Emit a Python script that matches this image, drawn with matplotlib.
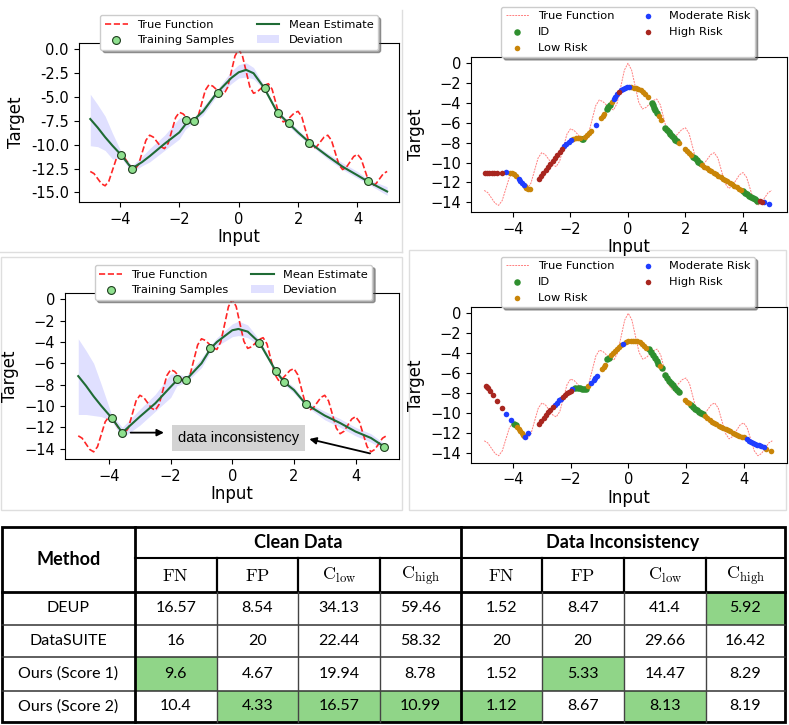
import numpy as np
import matplotlib
matplotlib.use('Agg')
import matplotlib.pyplot as plt
from matplotlib.patches import Rectangle

plt.rcParams['mathtext.fontset'] = 'cm'

W, H = 789, 725

# true function at 1/8 steps from -5 to 5
true_x = np.linspace(-5, 5, 81)
true_y = [-12.8, -13.02, -13.55, -14.08, -14.3, -13.82, -12.65, -11.48,
          -11.0, -11.23, -11.8, -12.37, -12.6, -12.07, -10.8, -9.53,
          -9.0, -9.2, -9.7, -10.2, -10.4, -9.85, -8.5, -7.15,
          -6.6, -6.76, -7.15, -7.54, -7.7, -7.12, -5.7, -4.28,
          -3.7, -3.85, -4.2, -4.55, -4.7, -4.0, -2.35, -0.69,
          0.0,
          -0.67, -2.3, -3.93, -4.6, -4.45, -4.1, -3.75, -3.6,
          -4.18, -5.6, -7.02, -7.6, -7.44, -7.05, -6.66, -6.5,
          -7.07, -8.45, -9.83, -10.4, -10.2, -9.7, -9.2, -9.0,
          -9.53, -10.8, -12.07, -12.6, -12.37, -11.8, -11.23, -11.0,
          -11.48, -12.65, -13.82, -14.3, -14.08, -13.55, -13.02, -12.8]

# clean data (top left)
tl_x = [-5, -4.75, -4.5, -4.25, -3.95, -3.6, -3.25, -3, -2.5, -2, -1.8, -1.55,
        -1.2, -0.75, -0.5, -0.25, 0, 0.25, 0.5, 0.85, 1.3, 1.7, 2, 2.4, 3,
        3.5, 4, 4.35, 5]
tl_mean = [-7.3, -8.2, -9.2, -10.1, -11.1, -12.5, -11.8, -11.2, -9.9, -8.7,
           -7.9, -7.5, -6.5, -4.6, -3.8, -3.0, -2.4, -2.15, -2.5, -4.0, -6.6,
           -7.8, -8.7, -9.8, -11.2, -12.3, -13.2, -13.85, -14.9]
tl_upper = [-4.7, -5.8, -7.0, -8.8, -10.8, -12.2, -11.2, -10.4, -9.0, -7.2,
            -7.1, -7.3, -6.0, -4.3, -3.3, -2.3, -1.6, -1.4, -1.9, -3.8, -6.4,
            -7.6, -8.4, -9.6, -10.9, -11.9, -12.8, -13.6, -14.4]
tl_lower = [-10.1, -10.2, -10.6, -11.5, -11.4, -12.9, -12.2, -11.8, -10.6,
            -9.4, -8.4, -7.7, -6.9, -4.9, -4.3, -3.6, -3.0, -2.9, -3.1, -4.2,
            -6.9, -8.1, -9.0, -10.0, -11.5, -12.6, -13.5, -14.1, -15.3]
tl_samp_x = [-3.95, -3.6, -1.78, -1.5, -0.71, 0.87, 1.34, 1.71, 2.38, 4.36]
tl_samp_y = [-11.1, -12.5, -7.45, -7.55, -4.6, -4.03, -6.7, -7.77, -9.8, -13.8]

# data inconsistency (bottom left)
bl_x = [-5, -4.75, -4.5, -4.25, -3.92, -3.57, -3, -2.5, -2, -1.8, -1.5, -1,
        -0.7, -0.5, 0, 0.2, 0.5, 0.88, 1.41, 1.69, 2, 2.38, 3, 3.5, 4, 4.5,
        4.92]
bl_mean = [-7.2, -8.1, -9.1, -10.0, -11.1, -12.5, -11.0, -9.75, -8.2, -7.6,
           -7.55, -6.0, -4.6, -4.0, -2.9, -2.78, -3.03, -4.06, -6.72, -7.78,
           -8.5, -9.81, -10.9, -11.6, -12.4, -13.0, -13.8]
bl_upper = [-3.7, -4.8, -6.0, -8.0, -10.8, -12.0, -10.3, -8.9, -7.0, -7.0,
            -7.2, -5.5, -4.3, -3.6, -2.3, -2.05, -2.4, -3.8, -6.5, -7.55,
            -8.2, -9.6, -10.5, -11.2, -12.0, -12.6, -13.5]
bl_lower = [-10.8, -10.8, -10.9, -11.0, -11.4, -13.0, -11.8, -10.5, -9.2,
            -8.1, -7.8, -6.4, -4.9, -4.4, -3.5, -3.4, -3.6, -4.3, -7.0, -8.0,
            -8.8, -10.0, -11.3, -12.0, -12.8, -13.4, -14.1]
bl_samp_x = [-3.92, -3.57, -1.79, -1.5, -0.71, 0.88, 1.41, 1.69, 2.38, 4.92]
bl_samp_y = [-11.1, -12.5, -7.44, -7.56, -4.56, -4.06, -6.72, -7.78, -9.81, -13.81]

# risk points, category code per point: I=ID, L=low, M=moderate, H=high
tr_x = [-4.98, -4.90, -4.82, -4.74, -4.65, -4.55, -4.38,
        -4.23,
        -4.10, -4.02, -3.95, -3.88,
        -3.80, -3.74, -3.68, -3.62,
        -3.58, -3.53, -3.47, -3.42,
        -3.10, -3.02, -2.94, -2.86, -2.78, -2.70, -2.62, -2.54, -2.46, -2.38, -2.30,
        -2.22, -2.14, -2.06, -1.98,
        -1.90, -1.82, -1.74, -1.66,
        -1.60, -1.55,
        -1.48, -1.41, -1.35, -1.28,
        -1.10,
        -0.94, -0.88, -0.82,
        -0.74, -0.69, -0.64,
        -0.56,
        -0.50, -0.44, -0.38,
        -0.32,
        -0.25, -0.18, -0.10, -0.03, 0.05,
        0.12, 0.20, 0.28, 0.36, 0.44, 0.52, 0.60, 0.68,
        0.82, 0.86, 0.90, 0.95, 1.00,
        1.08, 1.14,
        1.29, 1.35, 1.41, 1.47, 1.53, 1.59, 1.65, 1.72,
        1.77,
        1.98, 2.05, 2.12, 2.20,
        2.27, 2.33, 2.39, 2.45, 2.51,
        2.58, 2.66, 2.74, 2.82, 2.90, 2.98, 3.06, 3.14, 3.22, 3.30, 3.38, 3.46,
        3.54, 3.62, 3.70, 3.78, 3.86, 3.93,
        4.00, 4.07, 4.14, 4.21, 4.28, 4.35, 4.42, 4.50,
        4.58, 4.66,
        4.74, 4.92]
tr_y = [-11.05, -11.03, -11.02, -11.0, -11.0, -11.0, -11.0,
        -10.98,
        -11.0, -11.05, -11.15, -11.3,
        -11.6, -11.85, -12.1, -12.25,
        -12.4, -12.55, -12.65, -12.7,
        -11.6, -11.3, -11.0, -10.7, -10.4, -10.1, -9.8, -9.5, -9.2, -8.9, -8.62,
        -8.35, -8.1, -7.88, -7.7,
        -7.58, -7.53, -7.53, -7.55,
        -7.6, -7.6,
        -7.47, -7.25, -7.05, -6.85,
        -6.2,
        -5.55, -5.33, -5.13,
        -4.6, -4.42, -4.25,
        -3.9,
        -3.6, -3.35, -3.13,
        -2.93,
        -2.7, -2.55, -2.47, -2.43, -2.42,
        -2.43, -2.45, -2.5, -2.55, -2.68, -2.85, -3.05, -3.35,
        -4.0, -4.25, -4.5, -4.75, -5.0,
        -5.35, -5.7,
        -6.5, -6.75, -6.95, -7.15, -7.35, -7.55, -7.7, -7.85,
        -8.0,
        -8.62, -8.85, -9.05, -9.2,
        -9.4, -9.55, -9.75, -9.9, -10.05,
        -10.2, -10.4, -10.55, -10.7, -10.85, -11.0, -11.15, -11.3, -11.45, -11.6,
        -11.72, -11.88, -12.03, -12.2, -12.35, -12.5, -12.65, -12.78,
        -12.9, -13.05, -13.2, -13.35, -13.5, -13.6, -13.7, -13.82,
        -13.9, -13.93,
        -13.97, -14.2]
tr_cat = ('HHHHHHH' 'M' 'LLLL' 'MMMM' 'LLLL' 'HHHHHHHHHHH' 'MMMM' 'LLLL' 'II'
          'LLLL' 'M' 'LLL' 'III' 'L' 'MMM' 'H' 'MMMMM' 'LLLLLLLL' 'IIIII' 'LL'
          'IIIIIIII' 'L' 'LLLL' 'IIIII' 'LLLLLLLLLLLLLLLLLL' 'IIIIIIII' 'HH' 'MM')

br_x = [-4.95, -4.91, -4.87, -4.80, -4.71, -4.57, -4.40,
        -4.23, -4.08,
        -3.97, -3.91,
        -3.85, -3.80, -3.75, -3.70, -3.65, -3.62,
        -3.58, -3.47,
        -3.10, -3.02, -2.94, -2.86, -2.78, -2.70, -2.62,
        -2.54, -2.47, -2.40, -2.34,
        -2.28, -2.21, -2.14, -2.07, -2.00,
        -1.94,
        -1.84, -1.76, -1.68, -1.60, -1.54, -1.48,
        -1.40,
        -1.28, -1.20, -1.14, -1.08,
        -0.92, -0.86, -0.82,
        -0.73, -0.67,
        -0.60, -0.53, -0.46, -0.39, -0.32, -0.25,
        -0.17,
        -0.08, 0.00, 0.08, 0.16, 0.24, 0.32, 0.40, 0.48, 0.56, 0.63,
        0.71, 0.78, 0.85, 0.92, 0.98, 1.04,
        1.10,
        1.16,
        1.29, 1.35, 1.42, 1.49, 1.56, 1.63, 1.70, 1.77,
        1.98, 2.05, 2.12,
        2.18, 2.24, 2.30, 2.37, 2.44, 2.51, 2.58,
        2.66, 2.74, 2.82, 2.90, 2.98, 3.06, 3.14, 3.22, 3.30, 3.38, 3.46, 3.54,
        3.62, 3.70, 3.78, 3.86, 3.94, 4.01,
        4.13, 4.20, 4.27, 4.34, 4.41, 4.48, 4.55, 4.62, 4.70,
        4.78, 4.94]
br_y = [-7.27, -7.42, -7.55, -7.8, -8.2, -8.8, -9.46,
        -10.07, -10.67,
        -11.07, -11.24,
        -11.42, -11.62, -11.8, -12.0, -12.2, -12.32,
        -12.4, -12.0,
        -11.07, -10.78, -10.5, -10.22, -9.95, -9.7, -9.45,
        -9.2, -8.98, -8.75, -8.58,
        -8.4, -8.2, -8.02, -7.88, -7.78,
        -7.62,
        -7.5, -7.48, -7.55, -7.62, -7.62, -7.58,
        -7.3,
        -6.95, -6.7, -6.5, -6.28,
        -5.57, -5.35, -5.17,
        -4.63, -4.48,
        -4.22, -3.98, -3.75, -3.55, -3.38, -3.22,
        -3.08,
        -2.9, -2.8, -2.76, -2.75, -2.76, -2.8, -2.92, -3.1, -3.3, -3.45,
        -3.55, -3.85, -4.2, -4.5, -4.75, -5.05,
        -5.3,
        -5.5,
        -6.2, -6.45, -6.75, -7.0, -7.25, -7.5, -7.75, -7.95,
        -8.72, -8.9, -9.05,
        -9.2, -9.4, -9.58, -9.75, -9.9, -10.02, -10.15,
        -10.35, -10.55, -10.72, -10.88, -11.0, -11.12, -11.27, -11.4, -11.5,
        -11.6, -11.72, -11.85, -11.98, -12.1, -12.2, -12.3, -12.38, -12.45,
        -12.65, -12.78, -12.9, -13.0, -13.1, -13.2, -13.27, -13.35, -13.42,
        -13.6, -13.83]
br_cat = ('HHHHHHH' 'MM' 'II' 'LLLLLL' 'MM' 'HHHHHHH' 'MMMM' 'HHHHH' 'M'
          'IIIIII' 'L' 'MMMM' 'LLL' 'II' 'LLLLLL' 'M' 'LLLLLLLLLL' 'IIIIII' 'L'
          'I' 'IIIIIIII' 'LLL' 'IIIIIII' 'LLLLLLLLLLLLLLLLLL' 'MMMMMMMMM' 'LL')

risk_names = {'I': 'ID', 'L': 'Low Risk', 'M': 'Moderate Risk', 'H': 'High Risk'}
risk_colors = {'I': '#2f8f2f', 'L': '#c98508', 'M': '#1f3dff', 'H': '#a8261f'}

# table
methods = ['DEUP', 'DataSUITE', 'Ours (Score 1)', 'Ours (Score 2)']
clean_vals = [['16.57', '8.54', '34.13', '59.46'],
              ['16', '20', '22.44', '58.32'],
              ['9.6', '4.67', '19.94', '8.78'],
              ['10.4', '4.33', '16.57', '10.99']]
incons_vals = [['1.52', '8.47', '41.4', '5.92'],
               ['20', '20', '29.66', '16.42'],
               ['1.52', '5.33', '14.47', '8.29'],
               ['1.12', '8.67', '8.13', '8.19']]
metric_names = [r'$\mathrm{FN}$', r'$\mathrm{FP}$', r'$\mathrm{C}_{\mathrm{low}}$',
                r'$\mathrm{C}_{\mathrm{high}}$']
highlight = [(0, 7), (2, 0), (2, 5), (3, 1), (3, 2), (3, 3), (3, 4), (3, 6)]


def px_rect(l, t, r, b):
    return [l / W, 1 - b / H, (r - l) / W, (b - t) / H]


fig = plt.figure(figsize=(W / 100, H / 100), dpi=100)

# background layer in pixel coordinates: panel frames and the table
bg = fig.add_axes([0, 0, 1, 1])
bg.set_xlim(0, W)
bg.set_ylim(H, 0)
bg.axis('off')

frame_col = '#dedede'
bg.plot([401.7, 401.7], [10, 251.7], color=frame_col, lw=1)
bg.plot([0, 401.7], [251.7, 251.7], color=frame_col, lw=1)
bg.add_patch(Rectangle((1, 257.3), 400.7, 252.7, fill=False, ec=frame_col, lw=1))
bg.add_patch(Rectangle((409.3, 250), 376.7, 260, fill=False, ec=frame_col, lw=1))

cols = [1.7, 135, 216.7, 298.3, 380, 460.7, 541.7, 624.3, 705.7, 785]
rows = [526.7, 557.7, 591.7, 625, 657.3, 690.7, 722.3]
green = '#90d588'
for r, c in highlight:
    bg.add_patch(Rectangle((cols[c + 1], rows[r + 2]), cols[c + 2] - cols[c + 1],
                           rows[r + 3] - rows[r + 2], color=green, lw=0))

# grid lines
for y in rows[3:-1]:
    bg.plot([cols[0], cols[-1]], [y, y], color='#333333', lw=1.1)
bg.plot([cols[1], cols[-1]], [rows[1], rows[1]], color='black', lw=1.5)
bg.plot([cols[0], cols[-1]], [rows[2], rows[2]], color='black', lw=2)
for x in cols[2:5] + cols[6:9]:
    bg.plot([x, x], [rows[1], rows[2]], color='black', lw=1.6)
    bg.plot([x, x], [rows[2], rows[-1]], color='#444444', lw=1.0)
for x in [cols[1], cols[5]]:
    bg.plot([x, x], [rows[0], rows[-1]], color='black', lw=2)
bg.add_patch(Rectangle((cols[0], rows[0]), cols[-1] - cols[0], rows[-1] - rows[0],
                       fill=False, ec='black', lw=2))

tfont = 'Lato'
bg.text((cols[0] + cols[1]) / 2, (rows[0] + rows[2]) / 2, 'Method', ha='center',
        va='center', fontsize=13, fontweight='bold', family=tfont)
bg.text((cols[1] + cols[5]) / 2, (rows[0] + rows[1]) / 2, 'Clean Data',
        ha='center', va='center', fontsize=13, fontweight='bold', family=tfont)
bg.text((cols[5] + cols[9]) / 2, (rows[0] + rows[1]) / 2, 'Data Inconsistency',
        ha='center', va='center', fontsize=13, fontweight='bold', family=tfont)
for j in range(8):
    bg.text((cols[j + 1] + cols[j + 2]) / 2, (rows[1] + rows[2]) / 2 + 1,
            metric_names[j % 4], ha='center', va='center', fontsize=13)
for i, m in enumerate(methods):
    yc = (rows[i + 2] + rows[i + 3]) / 2
    bg.text((cols[0] + cols[1]) / 2, yc, m, ha='center', va='center',
            fontsize=11.5, family=tfont)
    for j, v in enumerate(clean_vals[i] + incons_vals[i]):
        bg.text((cols[j + 1] + cols[j + 2]) / 2, yc, v, ha='center', va='center',
                fontsize=11.5, family=tfont)


def draw_estimate(ax, xs, mean, upper, lower, sx, sy):
    ax.plot(true_x, true_y, color='red', ls='--', lw=1.2, alpha=0.85,
            label='True Function')
    ax.scatter(sx, sy, s=32, facecolor='#8fe08f', edgecolor='#1d3d1d', lw=0.8,
               zorder=5, label='Training Samples')
    ax.plot(xs, mean, color='#1f6b35', lw=1.5, label='Mean Estimate')
    ax.fill_between(xs, lower, upper, color='blue', alpha=0.12, lw=0,
                    label='Deviation')


def draw_risk(ax, xs, ys, cats):
    ax.plot(true_x, true_y, color='red', ls=(0, (2, 1)), lw=0.7, alpha=0.5,
            label='True Function')
    xs = np.array(xs)
    ys = np.array(ys)
    cats = np.array(list(cats))
    for k in ['I', 'L', 'M', 'H']:
        m = cats == k
        ax.scatter(xs[m], ys[m], s=22 if k == 'I' else 16, color=risk_colors[k],
                   lw=0, label=risk_names[k], zorder=3)


def style(ax, yticks, xlim, ylim):
    ax.set_xlim(*xlim)
    ax.set_ylim(*ylim)
    ax.set_xticks([-4, -2, 0, 2, 4])
    ax.set_yticks(yticks)
    ax.tick_params(labelsize=10.5)
    ax.set_xlabel('Input', fontsize=12, labelpad=1)
    ax.set_ylabel('Target', fontsize=12)


def add_legend(ax, cx, top):
    leg = ax.legend(loc='upper center', bbox_to_anchor=(cx / W, 1 - top / H),
                    bbox_transform=fig.transFigure, ncol=2, fontsize=8.2,
                    shadow=True, fancybox=True, framealpha=1, borderaxespad=0,
                    columnspacing=2.0, scatterpoints=1)
    return leg


ax1 = fig.add_axes(px_rect(78.7, 42.7, 398.7, 202))
draw_estimate(ax1, tl_x, tl_mean, tl_upper, tl_lower, tl_samp_x, tl_samp_y)
style(ax1, [0, -2.5, -5, -7.5, -10, -12.5, -15], (-5.39, 5.39), (-16.0, 0.7))
ax1.yaxis.set_major_formatter(matplotlib.ticker.FormatStrFormatter('%.1f'))
add_legend(ax1, 239, 15)

ax2 = fig.add_axes(px_rect(470.7, 57.3, 786.7, 212))
draw_risk(ax2, tr_x, tr_y, tr_cat)
style(ax2, list(range(0, -15, -2)), (-5.47, 5.52), (-14.97, 0.6))
add_legend(ax2, 628, 6.7)

ax3 = fig.add_axes(px_rect(65, 292.7, 399.3, 459.3))
draw_estimate(ax3, bl_x, bl_mean, bl_upper, bl_lower, bl_samp_x, bl_samp_y)
style(ax3, list(range(0, -15, -2)), (-5.43, 5.42), (-15.0, 0.62))
add_legend(ax3, 233.5, 265)
ax3.text(0.2, -13.0, 'data inconsistency', ha='center', va='center',
         fontsize=10.5, family='Liberation Sans', zorder=6,
         bbox=dict(boxstyle='square,pad=0.38', facecolor='#d3d3d3', edgecolor='none'))
arrow = dict(arrowstyle='-|>', color='black', lw=1.3, mutation_scale=10,
             shrinkA=0, shrinkB=0)
ax3.annotate('', xy=(-2.22, -12.5), xytext=(-3.3, -12.5), arrowprops=arrow, zorder=6)
ax3.annotate('', xy=(2.5, -13.1), xytext=(4.47, -14.45), arrowprops=arrow, zorder=6)

ax4 = fig.add_axes(px_rect(470.7, 307.3, 787.3, 462.7))
draw_risk(ax4, br_x, br_y, br_cat)
style(ax4, list(range(0, -15, -2)), (-5.47, 5.52), (-15.0, 0.6))
add_legend(ax4, 628, 256.7)

fig.savefig('out.png', dpi=100)
